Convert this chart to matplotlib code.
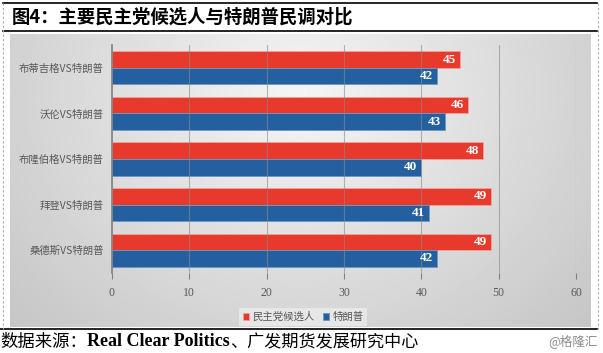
import matplotlib
import matplotlib.pyplot as plt
import numpy as np
from matplotlib.lines import Line2D

matplotlib.use("Agg")

CJK = ["Noto Sans CJK SC", "DejaVu Sans"]
SERIF = ["Liberation Serif", "Noto Sans CJK SC"]

TITLE = "图4：主要民主党候选人与特朗普民调对比"
CATEGORIES = ["布蒂吉格VS特朗普", "沃伦VS特朗普", "布隆伯格VS特朗普", "拜登VS特朗普", "桑德斯VS特朗普"]
DEM_LABEL = "民主党候选人"
TRUMP_LABEL = "特朗普"
DEM_VALUES = [45, 46, 48, 49, 49]
TRUMP_VALUES = [42, 43, 40, 41, 42]
X_TICKS = [0, 10, 20, 30, 40, 50, 60]
SOURCE_PARTS = ["数据来源：", "Real Clear Politics", "、广发期货发展研究中心"]

RED = "#E8392D"
BLUE = "#24609F"

W, H = 603, 353
fig = plt.figure(figsize=(W / 100, H / 100), dpi=100)
fig.patch.set_facecolor("white")


def fx(px):
    return px / W


def fy(py):
    return 1 - py / H


# gray gradient panel behind the chart
bg = fig.add_axes([fx(10), fy(327), fx(591) - fx(10), fy(34) - fy(327)])
gx = np.linspace(-1, 1, 300)
gy = np.linspace(-1, 1, 200)
GX, GY = np.meshgrid(gx, gy)
r = np.sqrt((GX * 0.95) ** 2 + ((GY + 0.6) * 0.55) ** 2)
shade = 0.96 - 0.20 * np.clip(r, 0, 1.4) / 1.4
bg.imshow(shade, cmap="gray", vmin=0, vmax=1, aspect="auto", extent=[0, 1, 0, 1], origin="upper")
bg.axis("off")

ax = fig.add_axes([fx(112), fy(273), fx(576) - fx(112), fy(45) - fy(273)])
ax.patch.set_alpha(0)

n = len(CATEGORIES)
y = np.arange(n)
h = 0.363
red_bars = ax.barh(y - h / 2, DEM_VALUES, height=h, color=RED, edgecolor="#f5a09a", linewidth=0.6,
                   label=DEM_LABEL, zorder=2)
blue_bars = ax.barh(y + h / 2, TRUMP_VALUES, height=h, color=BLUE, edgecolor="#6f95c4", linewidth=0.6,
                    label=TRUMP_LABEL, zorder=2)

for bars, vals in ((red_bars, DEM_VALUES), (blue_bars, TRUMP_VALUES)):
    for bar, v in zip(bars, vals):
        ax.text(v - 0.5, bar.get_y() + bar.get_height() / 2, str(v), ha="right", va="center",
                color="white", fontsize=9.5, fontweight="bold", family=SERIF, zorder=4)

ax.set_xlim(0, 60)
ax.set_ylim(n - 0.5, -0.5)
ax.set_xticks(X_TICKS)
ax.set_xticklabels([str(t) for t in X_TICKS], family=SERIF, fontsize=8.5, color="#595959")
ax.set_yticks(y)
ax.set_yticklabels(CATEGORIES, family=CJK, fontsize=7.5, color="#595959")
ax.tick_params(axis="y", length=0, pad=6)
ax.tick_params(axis="x", length=4, color="#808080", pad=6, direction="out")
for x in X_TICKS[1:]:
    ax.axvline(x, color="#8a8a8a", linewidth=0.8, alpha=0.6, zorder=3)
for name, spine in ax.spines.items():
    spine.set_visible(name == "left")
ax.spines["left"].set_color("#7f7f7f")
ax.spines["left"].set_linewidth(1.2)

leg = fig.legend(handles=[red_bars, blue_bars], labels=[DEM_LABEL, TRUMP_LABEL], loc="center",
                 bbox_to_anchor=(fx(303), fy(317)), ncol=2, frameon=True, fancybox=False,
                 prop={"family": CJK, "size": 7.5}, handlelength=0.6, handleheight=0.6,
                 handletextpad=0.3, columnspacing=0.8, borderpad=0.4)
leg.get_frame().set_facecolor("#ececec")
leg.get_frame().set_edgecolor("none")
for t in leg.get_texts():
    t.set_color("#595959")

# title and frame lines
fig.text(fx(12), fy(17), TITLE, family=CJK, fontsize=13.2, fontweight="bold", va="center", ha="left")
fig.add_artist(Line2D([fx(3), fx(597)], [fy(3), fy(3)], color="black", linewidth=1.2))
fig.add_artist(Line2D([fx(3), fx(597)], [fy(31), fy(31)], color="black", linewidth=1.2))
fig.add_artist(Line2D([fx(0), fx(597)], [fy(329), fy(329)], color="black", linewidth=1.2))
fig.add_artist(Line2D([fx(3), fx(3)], [fy(3), fy(329)], color="#aaaaaa", linewidth=0.8, linestyle=(0, (2, 2))))
fig.add_artist(Line2D([fx(598), fx(598)], [fy(3), fy(329)], color="#aaaaaa", linewidth=0.8, linestyle=(0, (2, 2))))

# footer, pieces placed one after another
renderer = fig.canvas.get_renderer()
x_px = 0.0
styles = [
    dict(family=CJK, fontsize=12.5),
    dict(family=SERIF, fontsize=13, fontweight="bold"),
    dict(family=CJK, fontsize=12.3),
]
for part, style in zip(SOURCE_PARTS, styles):
    t = fig.text(fx(x_px), fy(342), part, va="center", ha="left", **style)
    x_px += t.get_window_extent(renderer).width
fig.text(fx(598), fy(341), "@格隆汇", family=CJK, fontsize=9, color="#8c8c8c", va="center", ha="right")

fig.savefig("out.png", dpi=100)
